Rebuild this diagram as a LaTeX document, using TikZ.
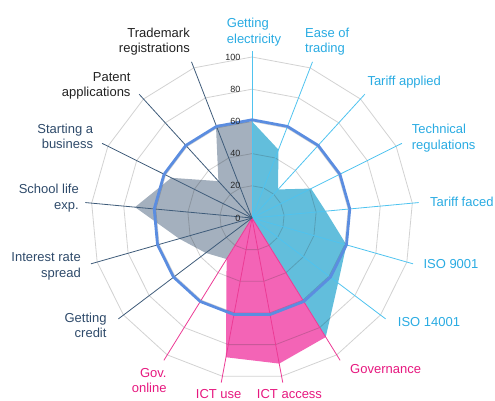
\documentclass[tikz,border=0pt]{standalone}
\usepackage{fontspec}
\setmainfont{Liberation Sans}

\definecolor{tradeblue}{HTML}{29ABE2}
\definecolor{tradeaxis}{HTML}{4FC3EF}
\definecolor{tradefill}{HTML}{62BEDC}
\definecolor{govpink}{HTML}{E6187F}
\definecolor{govaxis}{HTML}{EC3B95}
\definecolor{govfill}{HTML}{F364B6}
\definecolor{socslate}{HTML}{2E4A6A}
\definecolor{socaxis}{HTML}{3F5C7A}
\definecolor{socfill}{HTML}{A4B0BE}
\definecolor{avgring}{HTML}{5B8DE0}

\tikzset{
  lbl/.style={font=\fontsize{13}{15.6}\selectfont, inner sep=0pt},
  ticklbl/.style={font=\fontsize{9}{10}\selectfont, text=black!85, anchor=east, inner sep=0pt},
  gridline/.style={draw=black!80, draw opacity=.22, line width=.8pt},
  spoke/.style={line width=.8pt},
}

\begin{document}
\begin{tikzpicture}[x=1pt,y=1pt]
\useasboundingbox (-252,-183) rectangle (243,218);
\coordinate (c) at (0,0);
\foreach \i in {0,...,16} \coordinate (a\i) at ({90-\i*360/17}:{104*1.61});

\fill[tradefill] (c) \foreach \v [count=\i from 0] in {60,45.5,24,41,46,61,67,87} { -- ({90-\i*360/17}:{\v*1.61}) } -- cycle;
\fill[govfill] (c) \foreach \v [count=\i from 7] in {87,92,88,30} { -- ({90-\i*360/17}:{\v*1.61}) } -- cycle;
\fill[socfill] (c) \foreach \v [count=\i from 10] in {30,36,47,73,56,31,62,60} { -- ({90-\i*360/17}:{\v*1.61}) } -- cycle;

\foreach \r in {20,40,...,100}
  \draw[gridline] (90:{\r*1.61}) \foreach \i in {1,...,16} { -- ({90-\i*360/17}:{\r*1.61}) } -- cycle;

\foreach \i in {0,...,6} \draw[spoke, tradeaxis] (c) -- (a\i);
\foreach \i in {7,...,10} \draw[spoke, govaxis] (c) -- (a\i);
\foreach \i in {11,...,16} \draw[spoke, socaxis] (c) -- (a\i);

\draw[avgring, line width=2.8pt, line join=round] (90:{61*1.61}) \foreach \i in {1,...,16} { -- ({90-\i*360/17}:{61*1.61}) } -- cycle;

\foreach \v in {0,20,...,100} \node[ticklbl] (t\v) at (-11.3,{\v*1.61}) {\v};

\node[lbl, tradeblue, anchor=west, align=left] (lelec) at (-25.3,185.9) {Getting\\electricity};
\node[lbl, tradeblue, anchor=west, align=left] (lease) at (53,176.2) {Ease of\\trading};
\node[lbl, tradeblue, anchor=west] (ltarapp) at (115.3,136) {Tariff applied};
\node[lbl, tradeblue, anchor=west, align=left] (ltech) at (159.7,79.6) {Technical\\regulations};
\node[lbl, tradeblue, anchor=west] (ltarfac) at (178,16.3) {Tariff faced};
\node[lbl, tradeblue, anchor=west] (liso9) at (171.3,-46) {ISO 9001};
\node[lbl, tradeblue, anchor=west] (liso14) at (145.7,-104.3) {ISO 14001};
\node[lbl, govpink, anchor=west] (lgov) at (98,-151.3) {Governance};
\node[lbl, govpink] (lictacc) at (37.5,-176.3) {ICT access};
\node[lbl, govpink] (lictuse) at (-33.3,-176.3) {ICT use};
\node[lbl, govpink, anchor=east, align=right] (lgovon) at (-85.3,-162.5) {Gov.\\online};
\node[lbl, socslate, anchor=east, align=right] (lcredit) at (-145.3,-107.3) {Getting\\credit};
\node[lbl, socslate, anchor=east, align=right] (lspread) at (-171,-48.6) {Interest rate\\spread};
\node[lbl, socslate, anchor=east, align=right] (lschool) at (-173,19.9) {School life\\exp.};
\node[lbl, socslate, anchor=east, align=right] (lstart) at (-158.7,81.8) {Starting a\\business};
\node[lbl, black!87, anchor=east, align=right] (lpatent) at (-121.3,132.2) {Patent\\applications};
\node[lbl, black!87, anchor=east, align=right] (ltrade) at (-62,176.2) {Trademark\\registrations};
\end{tikzpicture}
\end{document}
